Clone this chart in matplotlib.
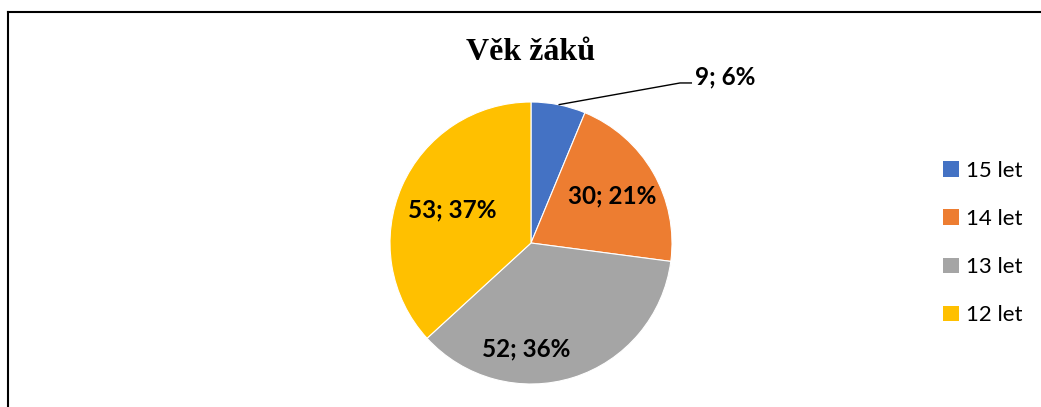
import numpy as np
import matplotlib
matplotlib.use("Agg")
import matplotlib.pyplot as plt
from matplotlib.patches import Patch

plt.rcParams["font.family"] = ["Lato", "DejaVu Sans"]

# data
categories = ["15 let", "14 let", "13 let", "12 let"]
counts = [9, 30, 52, 53]
colors = ["#4472C4", "#ED7D31", "#A5A5A5", "#FFC000"]
title = "Věk žáků"

W, H = 1041, 407
cx, cy, R = 531, 164, 141

# label placement, in units of the radius, relative to the pie centre
label_offsets = [None, (0.575, 0.333), (-0.035, -0.752), (-0.56, 0.234)]
outside_text = (1.163, 1.177)
outside_elbow = (1.057, 1.135)
outside_end = (1.142, 1.135)

fig = plt.figure(figsize=(W / 100, H / 100), dpi=100)
ax = fig.add_axes([0, 0, 1, 1])

wedges, _ = ax.pie(
    counts,
    colors=colors,
    startangle=90,
    counterclock=False,
    center=(cx, cy),
    radius=R,
    wedgeprops=dict(edgecolor="white", linewidth=0.8),
)
ax.set_xlim(0, W)
ax.set_ylim(0, H)
ax.set_aspect("auto")
ax.axis("off")

total = sum(counts)
labels = [f"{v}; {round(v / total * 100)}%" for v in counts]

for i, (w, lab) in enumerate(zip(wedges, labels)):
    off = label_offsets[i]
    if off is not None:
        ax.text(cx + off[0] * R, cy + off[1] * R, lab, ha="center", va="center",
                fontsize=17.5, fontweight="bold", color="black")
        continue
    # small slice: label outside with leader line
    mid = np.deg2rad((w.theta1 + w.theta2) / 2)
    x0, y0 = cx + R * np.cos(mid), cy + R * np.sin(mid)
    ax.plot([x0, cx + outside_elbow[0] * R, cx + outside_end[0] * R],
            [y0, cy + outside_elbow[1] * R, cy + outside_end[1] * R],
            color="black", lw=1.0, solid_capstyle="butt")
    ax.text(cx + outside_text[0] * R, cy + outside_text[1] * R, lab,
            ha="left", va="center", fontsize=17.5, fontweight="bold", color="black")

ax.text(cx, H - 52, title, ha="center", va="center", fontsize=23,
        fontweight="bold", family=["Liberation Serif", "DejaVu Serif"])

# frame lines (left and top only)
ax.plot([8, 8], [0, H - 12], color="black", lw=1.5, clip_on=False)
ax.plot([8, W], [H - 12, H - 12], color="black", lw=1.5, clip_on=False)

handles = [Patch(facecolor=c, edgecolor="none") for c in colors]
ax.legend(handles, categories, loc="center left", bbox_to_anchor=(0.906, 0.403),
          frameon=False, fontsize=16, handlelength=0.7, handleheight=0.7,
          handletextpad=0.35, labelspacing=1.27, borderaxespad=0, borderpad=0)

fig.savefig("out.png", dpi=100)
